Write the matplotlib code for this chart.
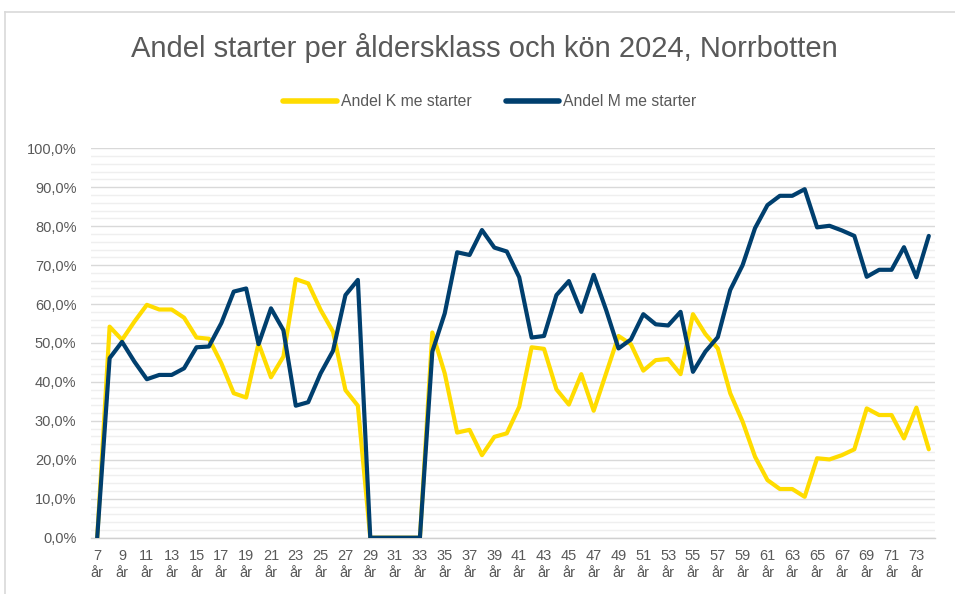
import matplotlib
matplotlib.use("Agg")
import matplotlib.pyplot as plt
from matplotlib.ticker import MultipleLocator, FuncFormatter
from matplotlib.lines import Line2D

plt.rcParams['font.family'] = ['Liberation Sans', 'DejaVu Sans']

ages = list(range(7, 75))
andel_k = [0.0, 54.2, 50.8, 55.5, 59.8, 58.6, 58.6, 56.5, 51.4, 51.1,
           44.8, 37.1, 36.0, 49.9, 41.2, 46.5, 66.4, 65.3, 58.5, 52.9,
           37.9, 33.9, 0.0, 0.0, 0.0, 0.0, 0.0, 52.7, 42.2, 27.0,
           27.7, 21.2, 25.9, 26.8, 33.6, 48.9, 48.5, 38.1, 34.2, 42.0,
           32.6, 42.2, 51.8, 49.7, 42.9, 45.6, 45.9, 42.0, 57.4, 52.3,
           48.6, 37.1, 29.8, 20.8, 14.8, 12.5, 12.5, 10.5, 20.4, 20.1,
           21.2, 22.7, 33.2, 31.5, 31.5, 25.5, 33.4, 22.7]
andel_m = [0.0, 46.1, 50.3, 45.2, 40.7, 41.8, 41.8, 43.5, 48.9, 49.1,
           55.1, 63.2, 64.0, 49.7, 58.9, 53.3, 33.9, 34.8, 42.2, 48.0,
           62.3, 66.2, 0.0, 0.0, 0.0, 0.0, 0.0, 47.8, 57.6, 73.3,
           72.6, 79.0, 74.5, 73.5, 66.9, 51.4, 51.8, 62.3, 65.9, 58.0,
           67.5, 58.5, 48.6, 50.9, 57.4, 54.8, 54.5, 58.0, 42.6, 47.8,
           51.5, 63.6, 70.0, 79.5, 85.4, 87.8, 87.8, 89.5, 79.7, 80.1,
           78.9, 77.5, 67.0, 68.8, 68.8, 74.6, 66.9, 77.5]
tick_ages = list(range(7, 75, 2))
tick_labels = [f"{a}\når" for a in tick_ages]

title = "Andel starter per åldersklass och kön 2024, Norrbotten"
label_k = "Andel K me starter"
label_m = "Andel M me starter"

col_k = "#FFDC00"
col_m = "#003F6E"
txt = "#595959"

W, H = 955, 594
fig = plt.figure(figsize=(W / 100, H / 100), dpi=100)
ax = fig.add_axes([91 / W, 1 - 537.7 / H, (935 - 91) / W, (537.7 - 148.3) / H])

ax.plot(ages, andel_k, color=col_k, lw=3.0, solid_joinstyle='round', solid_capstyle='round', zorder=3)
ax.plot(ages, andel_m, color=col_m, lw=3.0, solid_joinstyle='round', solid_capstyle='round', zorder=4)

ax.set_xlim(6.5, 74.5)
ax.set_ylim(0, 100)
ax.yaxis.set_major_locator(MultipleLocator(10))
ax.yaxis.set_minor_locator(MultipleLocator(2))
ax.yaxis.set_major_formatter(FuncFormatter(lambda v, p: f"{v:.1f}%".replace('.', ',')))
ax.grid(axis='y', which='major', color='#D9D9D9', lw=1.0, zorder=0)
ax.grid(axis='y', which='minor', color='#EFEFEF', lw=1.0, zorder=0)
ax.set_axisbelow(True)

ax.set_xticks(tick_ages)
ax.set_xticklabels(tick_labels, linespacing=1.3)
ax.tick_params(axis='x', length=0, pad=8, labelsize=10.5, labelcolor=txt)
ax.tick_params(axis='y', which='both', length=0, pad=10.5, labelsize=10.5, labelcolor=txt)

for s in ['top', 'right', 'left']:
    ax.spines[s].set_visible(False)
ax.spines['bottom'].set_color('#D0D0D0')
ax.spines['bottom'].set_linewidth(1.0)

fig.text(484 / W, 1 - 48 / H, title, ha='center', va='center', fontsize=21, color=txt)

handles = [Line2D([], [], color=col_k, lw=4, solid_capstyle='round'),
           Line2D([], [], color=col_m, lw=4, solid_capstyle='round')]
fig.legend(handles, [label_k, label_m], loc='center', bbox_to_anchor=(490 / W, 1 - 102 / H),
           ncol=2, frameon=False, fontsize=11.3, handlelength=3.4, handletextpad=0.25,
           columnspacing=2.2, labelcolor=txt)

# chart frame lines (top and left)
fig.add_artist(Line2D([5 / W, 1], [1 - 12 / H, 1 - 12 / H], transform=fig.transFigure, color='#D9D9D9', lw=1.2))
fig.add_artist(Line2D([5 / W, 5 / W], [0, 1 - 12 / H], transform=fig.transFigure, color='#D9D9D9', lw=1.2))

fig.savefig("out.png", dpi=100, facecolor='white')
